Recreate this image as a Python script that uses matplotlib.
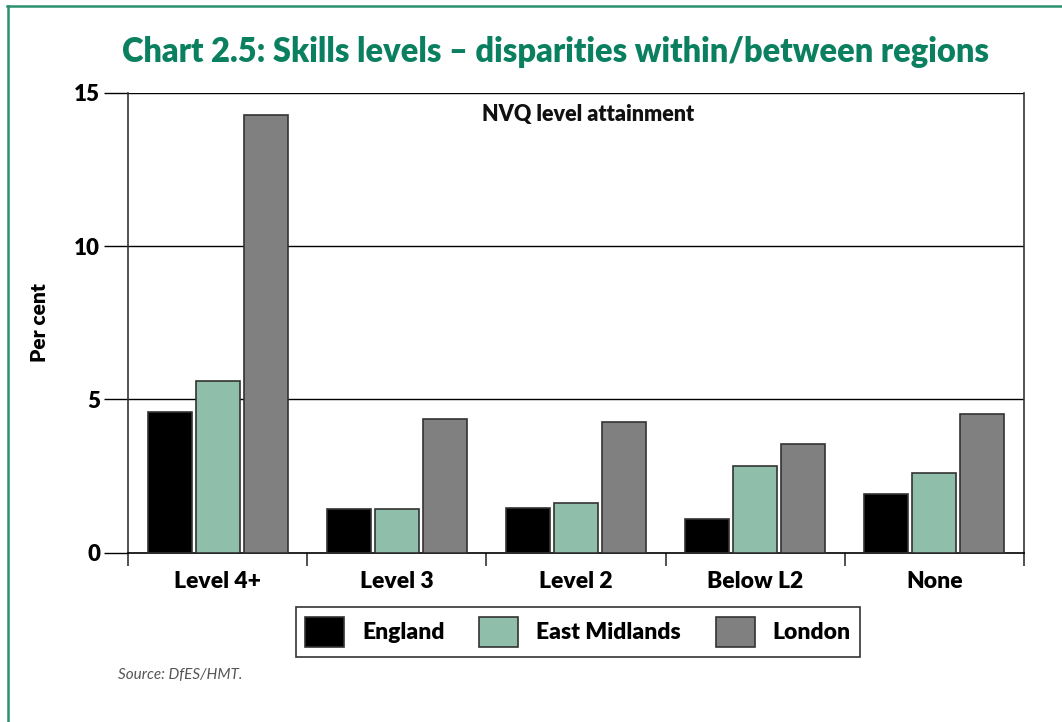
import matplotlib
matplotlib.use("Agg")
import matplotlib.pyplot as plt
from matplotlib.lines import Line2D
import numpy as np

plt.rcParams['font.family'] = ['Lato', 'DejaVu Sans']

categories = ["Level 4+", "Level 3", "Level 2", "Below L2", "None"]
series_names = ["England", "East Midlands", "London"]
england = [4.58, 1.42, 1.47, 1.11, 1.92]
east_midlands = [5.60, 1.44, 1.63, 2.82, 2.59]
london = [14.28, 4.35, 4.25, 3.54, 4.52]
y_ticks = [0, 5, 10, 15]

colors = ["#000000", "#8fbfaa", "#808080"]
green = "#0b8060"
W = "heavy"

fig = plt.figure(figsize=(10.62, 7.22), dpi=100)
ax = fig.add_axes([128 / 1062, 1 - 552.7 / 722, (1024 - 128) / 1062, (552.7 - 92.7) / 722])

x = np.arange(len(categories))
width = 0.245
offsets = [-0.268, 0.0, 0.268]
for vals, off, col, name in zip([england, east_midlands, london], offsets, colors, series_names):
    ax.bar(x + off, vals, width=width, color=col, edgecolor="#333333", linewidth=1.2,
           label=name, zorder=3)

ax.set_xlim(-0.5, len(categories) - 0.5)
ax.set_ylim(0, 15)

# horizontal gridlines
for v in y_ticks[1:]:
    ax.axhline(v, color="black", linewidth=1.0, zorder=1)

ax.set_yticks(y_ticks)
ax.set_yticklabels([str(v) for v in y_ticks], fontsize=16, fontweight=W)
ax.tick_params(axis="y", direction="out", length=17, width=1.0, color="black", pad=3)

# category separators as major ticks, labels on minor ticks
ax.set_xticks(np.arange(-0.5, len(categories), 1.0))
ax.set_xticklabels([])
ax.tick_params(axis="x", which="major", direction="out", length=9, width=1.2, color="#333333")
ax.set_xticks(x, minor=True)
ax.set_xticklabels(categories, minor=True, fontsize=16.5, fontweight=W)
ax.tick_params(axis="x", which="minor", length=0, pad=13)

for side in ["left", "right", "bottom"]:
    ax.spines[side].set_color("#333333")
    ax.spines[side].set_linewidth(1.2)
ax.spines["top"].set_visible(False)
ax.spines["bottom"].set_color("black")

ax.set_ylabel("Per cent", fontsize=15, fontweight=W)
ax.yaxis.set_label_coords(-0.088, 0.5)

ax.text(0.513, 0.952, "NVQ level attainment", transform=ax.transAxes, ha="center",
        va="center", fontsize=15.5, fontweight=W, color="#111111")

fig.text(555 / 1062, 1 - 52 / 722, "Chart 2.5: Skills levels \u2013 disparities within/between regions",
         ha="center", va="center", fontsize=23.5, fontweight=W, color=green)

leg = fig.legend(loc="center", bbox_to_anchor=(578 / 1062, 1 - 632 / 722), ncol=3,
                 prop={"weight": W, "size": 16.5}, frameon=True,
                 fancybox=False, edgecolor="black", handlelength=1.7, handleheight=1.7,
                 handletextpad=0.8, columnspacing=1.5, borderpad=0.4)
leg.get_frame().set_linewidth(1.2)

fig.text(118 / 1062, 1 - 675 / 722, "Source: DfES/HMT.", ha="left", va="center",
         fontsize=11, style="italic", color="#555555")

# outer frame lines
fig.add_artist(Line2D([7 / 1062, 1.0], [1 - 6 / 722, 1 - 6 / 722], color="#2a9070",
                      linewidth=1.8, transform=fig.transFigure))
fig.add_artist(Line2D([7.5 / 1062, 7.5 / 1062], [0, 1 - 6 / 722], color="#2a9070",
                      linewidth=1.8, transform=fig.transFigure))

fig.savefig("out.png", dpi=100, facecolor="white")
